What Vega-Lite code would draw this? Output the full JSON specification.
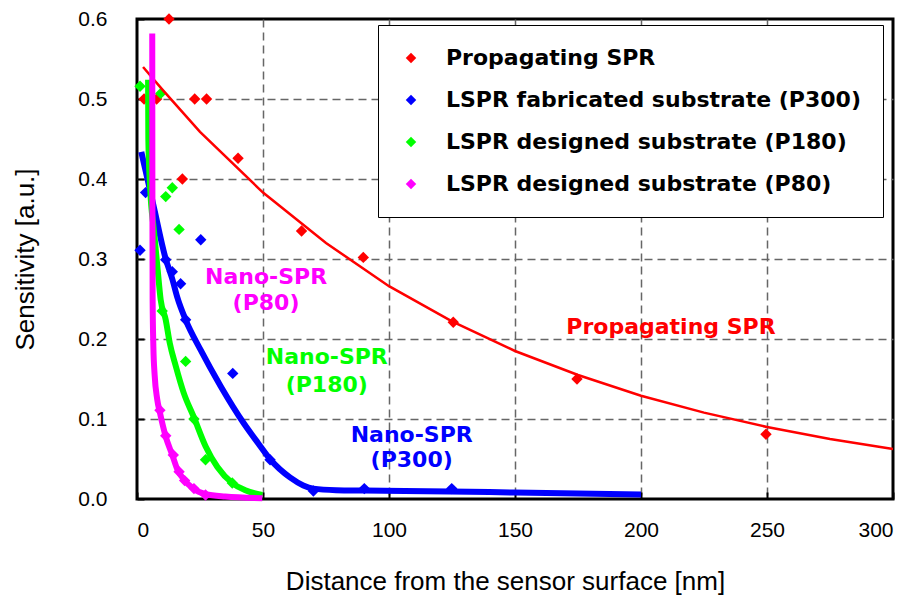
{
  "$schema": "https://vega.github.io/schema/vega-lite/v6.json",
  "width": 756,
  "height": 480,
  "autosize": "none",
  "padding": {"left": 137, "top": 19, "right": 22, "bottom": 100},
  "background": "white",
  "config": {
    "view": {"stroke": "black", "strokeWidth": 3},
    "axis": {
      "domain": false,
      "grid": true,
      "gridDash": [8, 5],
      "gridWidth": 1.5,
      "gridOpacity": 1,
      "ticks": true,
      "tickSize": -7,
      "tickWidth": 2,
      "tickColor": "black",
      "labelFont": "Liberation Sans",
      "labelFontSize": 21,
      "labelColor": "black",
      "titleFont": "Liberation Sans",
      "titleFontSize": 26,
      "titleFontWeight": "normal",
      "titleColor": "black"
    },
    "axisX": {"labelPadding": 27},
    "axisY": {"labelPadding": 37}
  },
  "datasets": {
    "points": [
      {"series": "Propagating SPR", "x": 12.7, "y": 0.6},
      {"series": "Propagating SPR", "x": 2.8, "y": 0.5},
      {"series": "Propagating SPR", "x": 7.8, "y": 0.5},
      {"series": "Propagating SPR", "x": 22.9, "y": 0.5},
      {"series": "Propagating SPR", "x": 27.6, "y": 0.5},
      {"series": "Propagating SPR", "x": 40.1, "y": 0.426},
      {"series": "Propagating SPR", "x": 18.0, "y": 0.4},
      {"series": "Propagating SPR", "x": 65.3, "y": 0.335},
      {"series": "Propagating SPR", "x": 89.8, "y": 0.302},
      {"series": "Propagating SPR", "x": 125.5, "y": 0.221},
      {"series": "Propagating SPR", "x": 174.6, "y": 0.15},
      {"series": "Propagating SPR", "x": 249.6, "y": 0.081},
      {"series": "LSPR fabricated substrate (P300)", "x": 1.2, "y": 0.311},
      {"series": "LSPR fabricated substrate (P300)", "x": 3.4, "y": 0.383},
      {"series": "LSPR fabricated substrate (P300)", "x": 11.4, "y": 0.299},
      {"series": "LSPR fabricated substrate (P300)", "x": 14.0, "y": 0.284},
      {"series": "LSPR fabricated substrate (P300)", "x": 17.3, "y": 0.269},
      {"series": "LSPR fabricated substrate (P300)", "x": 19.3, "y": 0.224},
      {"series": "LSPR fabricated substrate (P300)", "x": 25.3, "y": 0.324},
      {"series": "LSPR fabricated substrate (P300)", "x": 38.0, "y": 0.157},
      {"series": "LSPR fabricated substrate (P300)", "x": 52.8, "y": 0.049},
      {"series": "LSPR fabricated substrate (P300)", "x": 70.0, "y": 0.01},
      {"series": "LSPR fabricated substrate (P300)", "x": 90.2, "y": 0.013},
      {"series": "LSPR fabricated substrate (P300)", "x": 124.9, "y": 0.013},
      {"series": "LSPR designed substrate (P180)", "x": 1.2, "y": 0.516},
      {"series": "LSPR designed substrate (P180)", "x": 9.4, "y": 0.507},
      {"series": "LSPR designed substrate (P180)", "x": 11.4, "y": 0.378},
      {"series": "LSPR designed substrate (P180)", "x": 14.0, "y": 0.389},
      {"series": "LSPR designed substrate (P180)", "x": 16.7, "y": 0.337},
      {"series": "LSPR designed substrate (P180)", "x": 10.0, "y": 0.235},
      {"series": "LSPR designed substrate (P180)", "x": 19.3, "y": 0.172},
      {"series": "LSPR designed substrate (P180)", "x": 22.6, "y": 0.1},
      {"series": "LSPR designed substrate (P180)", "x": 27.2, "y": 0.049},
      {"series": "LSPR designed substrate (P180)", "x": 37.8, "y": 0.02},
      {"series": "LSPR designed substrate (P80)", "x": 9.1, "y": 0.111},
      {"series": "LSPR designed substrate (P80)", "x": 11.4, "y": 0.079},
      {"series": "LSPR designed substrate (P80)", "x": 14.4, "y": 0.055},
      {"series": "LSPR designed substrate (P80)", "x": 16.7, "y": 0.034},
      {"series": "LSPR designed substrate (P80)", "x": 18.9, "y": 0.023},
      {"series": "LSPR designed substrate (P80)", "x": 22.6, "y": 0.013},
      {"series": "LSPR designed substrate (P80)", "x": 27.2, "y": 0.005}
    ],
    "curves": [
      {"curve": "SPR", "x": 2.4, "y": 0.54},
      {"curve": "SPR", "x": 10, "y": 0.512},
      {"curve": "SPR", "x": 25, "y": 0.459},
      {"curve": "SPR", "x": 50, "y": 0.383},
      {"curve": "SPR", "x": 75, "y": 0.32},
      {"curve": "SPR", "x": 100, "y": 0.266},
      {"curve": "SPR", "x": 125, "y": 0.222},
      {"curve": "SPR", "x": 150, "y": 0.185},
      {"curve": "SPR", "x": 175, "y": 0.155},
      {"curve": "SPR", "x": 200, "y": 0.129},
      {"curve": "SPR", "x": 225, "y": 0.108},
      {"curve": "SPR", "x": 250, "y": 0.09},
      {"curve": "SPR", "x": 275, "y": 0.075},
      {"curve": "SPR", "x": 300, "y": 0.0625},
      {"curve": "P300", "x": 1.7, "y": 0.434},
      {"curve": "P300", "x": 6.6, "y": 0.366},
      {"curve": "P300", "x": 11.4, "y": 0.3},
      {"curve": "P300", "x": 14, "y": 0.275},
      {"curve": "P300", "x": 16, "y": 0.252},
      {"curve": "P300", "x": 19.3, "y": 0.224},
      {"curve": "P300", "x": 25.3, "y": 0.186},
      {"curve": "P300", "x": 33.2, "y": 0.141},
      {"curve": "P300", "x": 42.5, "y": 0.094},
      {"curve": "P300", "x": 48, "y": 0.07},
      {"curve": "P300", "x": 53, "y": 0.049},
      {"curve": "P300", "x": 60.7, "y": 0.027},
      {"curve": "P300", "x": 66, "y": 0.017},
      {"curve": "P300", "x": 70, "y": 0.013},
      {"curve": "P300", "x": 79, "y": 0.011},
      {"curve": "P300", "x": 90, "y": 0.0105},
      {"curve": "P300", "x": 124, "y": 0.0095},
      {"curve": "P300", "x": 150, "y": 0.008},
      {"curve": "P300", "x": 200, "y": 0.0055},
      {"curve": "P180", "x": 4.4, "y": 0.524},
      {"curve": "P180", "x": 4.5, "y": 0.45},
      {"curve": "P180", "x": 5.2, "y": 0.39},
      {"curve": "P180", "x": 6.7, "y": 0.336},
      {"curve": "P180", "x": 8.1, "y": 0.29},
      {"curve": "P180", "x": 9.4, "y": 0.249},
      {"curve": "P180", "x": 11.4, "y": 0.224},
      {"curve": "P180", "x": 13, "y": 0.195},
      {"curve": "P180", "x": 15.4, "y": 0.166},
      {"curve": "P180", "x": 18.5, "y": 0.133},
      {"curve": "P180", "x": 22.6, "y": 0.102},
      {"curve": "P180", "x": 27.2, "y": 0.066},
      {"curve": "P180", "x": 31.9, "y": 0.04},
      {"curve": "P180", "x": 37.8, "y": 0.02},
      {"curve": "P180", "x": 43, "y": 0.011},
      {"curve": "P180", "x": 49.7, "y": 0.005},
      {"curve": "P80", "x": 6.05, "y": 0.582},
      {"curve": "P80", "x": 6.1, "y": 0.4},
      {"curve": "P80", "x": 6.2, "y": 0.25},
      {"curve": "P80", "x": 6.5, "y": 0.19},
      {"curve": "P80", "x": 7.0, "y": 0.155},
      {"curve": "P80", "x": 8.0, "y": 0.125},
      {"curve": "P80", "x": 9.1, "y": 0.108},
      {"curve": "P80", "x": 11.4, "y": 0.078},
      {"curve": "P80", "x": 14, "y": 0.055},
      {"curve": "P80", "x": 16, "y": 0.037},
      {"curve": "P80", "x": 18.7, "y": 0.024},
      {"curve": "P80", "x": 22, "y": 0.014},
      {"curve": "P80", "x": 27.2, "y": 0.006},
      {"curve": "P80", "x": 35, "y": 0.003},
      {"curve": "P80", "x": 49.7, "y": 0.001}
    ],
    "labels": [
      {"group": "P80", "x": 51.2, "y": 0.278, "text": "Nano-SPR"},
      {"group": "P80", "x": 51.2, "y": 0.245, "text": "(P80)"},
      {"group": "P180", "x": 75.3, "y": 0.177, "text": "Nano-SPR"},
      {"group": "P180", "x": 75.3, "y": 0.142, "text": "(P180)"},
      {"group": "P300", "x": 109, "y": 0.08, "text": "Nano-SPR"},
      {"group": "P300", "x": 109, "y": 0.049, "text": "(P300)"},
      {"group": "SPR", "x": 211.9, "y": 0.215, "text": "Propagating SPR"}
    ]
  },
  "layer": [
    {
      "data": {"name": "points"},
      "mark": {"type": "point", "shape": "diamond", "filled": true, "size": 130, "opacity": 1},
      "encoding": {
        "x": {
          "field": "x", "type": "quantitative",
          "scale": {"domain": [0, 300], "nice": false},
          "axis": {
            "values": [0, 50, 100, 150, 200, 250, 300],
            "title": "Distance from the sensor surface [nm]",
            "titleY": 82, "titleX": 368, "titleBaseline": "middle",
            "gridColor": {"condition": {"test": "datum.value === 0 || datum.value === 300", "value": "transparent"}, "value": "#666666"}
          }
        },
        "y": {
          "field": "y", "type": "quantitative",
          "scale": {"domain": [0, 0.6], "nice": false},
          "axis": {
            "values": [0, 0.1, 0.2, 0.3, 0.4, 0.5, 0.6],
            "format": ".1f",
            "title": "Sensitivity [a.u.]",
            "titleX": -112, "titleY": 240, "titleAngle": -90, "titleAlign": "center", "titleBaseline": "middle",
            "gridColor": {"condition": {"test": "datum.value === 0 || datum.value >= 0.599", "value": "transparent"}, "value": "#666666"}
          }
        },
        "color": {
          "field": "series", "type": "nominal",
          "scale": {
            "domain": ["Propagating SPR", "LSPR fabricated substrate (P300)", "LSPR designed substrate (P180)", "LSPR designed substrate (P80)"],
            "range": ["#FF0000", "#0000FF", "#00FF00", "#FF00FF"]
          },
          "legend": {
            "title": null,
            "orient": "none",
            "legendX": 241,
            "legendY": 6,
            "fillColor": "white",
            "strokeColor": "black",
            "padding": 22,
            "symbolType": "diamond",
            "symbolSize": 110,
            "labelFont": "DejaVu Sans",
            "labelFontWeight": "bold",
            "labelFontSize": 22,
            "labelColor": "black",
            "labelLimit": 700,
            "labelOffset": 24,
            "rowPadding": 20
          }
        }
      }
    },
    {
      "data": {"name": "curves"},
      "transform": [{"filter": "datum.curve === 'SPR'"}],
      "mark": {"type": "line", "color": "#FF0000", "strokeWidth": 2.5},
      "encoding": {"x": {"field": "x", "type": "quantitative"}, "y": {"field": "y", "type": "quantitative"}}
    },
    {
      "data": {"name": "curves"},
      "transform": [{"filter": "datum.curve === 'P300'"}],
      "mark": {"type": "line", "color": "#0000FF", "strokeWidth": 6, "interpolate": "monotone"},
      "encoding": {"x": {"field": "x", "type": "quantitative"}, "y": {"field": "y", "type": "quantitative"}}
    },
    {
      "data": {"name": "curves"},
      "transform": [{"filter": "datum.curve === 'P180'"}],
      "mark": {"type": "line", "color": "#00FF00", "strokeWidth": 6, "interpolate": "monotone"},
      "encoding": {"x": {"field": "x", "type": "quantitative"}, "y": {"field": "y", "type": "quantitative"}}
    },
    {
      "data": {"name": "curves"},
      "transform": [{"filter": "datum.curve === 'P80'"}],
      "mark": {"type": "line", "color": "#FF00FF", "strokeWidth": 6, "interpolate": "monotone"},
      "encoding": {"x": {"field": "x", "type": "quantitative"}, "y": {"field": "y", "type": "quantitative"}}
    },
    {
      "data": {"name": "labels"},
      "transform": [{"filter": "datum.group === 'P80'"}],
      "mark": {"type": "text", "color": "#FF00FF", "font": "DejaVu Sans", "fontWeight": "bold", "fontSize": 22, "align": "center", "baseline": "middle"},
      "encoding": {"x": {"field": "x", "type": "quantitative"}, "y": {"field": "y", "type": "quantitative"}, "text": {"field": "text"}}
    },
    {
      "data": {"name": "labels"},
      "transform": [{"filter": "datum.group === 'P180'"}],
      "mark": {"type": "text", "color": "#00FF00", "font": "DejaVu Sans", "fontWeight": "bold", "fontSize": 22, "align": "center", "baseline": "middle"},
      "encoding": {"x": {"field": "x", "type": "quantitative"}, "y": {"field": "y", "type": "quantitative"}, "text": {"field": "text"}}
    },
    {
      "data": {"name": "labels"},
      "transform": [{"filter": "datum.group === 'P300'"}],
      "mark": {"type": "text", "color": "#0000FF", "font": "DejaVu Sans", "fontWeight": "bold", "fontSize": 22, "align": "center", "baseline": "middle"},
      "encoding": {"x": {"field": "x", "type": "quantitative"}, "y": {"field": "y", "type": "quantitative"}, "text": {"field": "text"}}
    },
    {
      "data": {"name": "labels"},
      "transform": [{"filter": "datum.group === 'SPR'"}],
      "mark": {"type": "text", "color": "#FF0000", "font": "DejaVu Sans", "fontWeight": "bold", "fontSize": 22, "align": "center", "baseline": "middle"},
      "encoding": {"x": {"field": "x", "type": "quantitative"}, "y": {"field": "y", "type": "quantitative"}, "text": {"field": "text"}}
    }
  ]
}
